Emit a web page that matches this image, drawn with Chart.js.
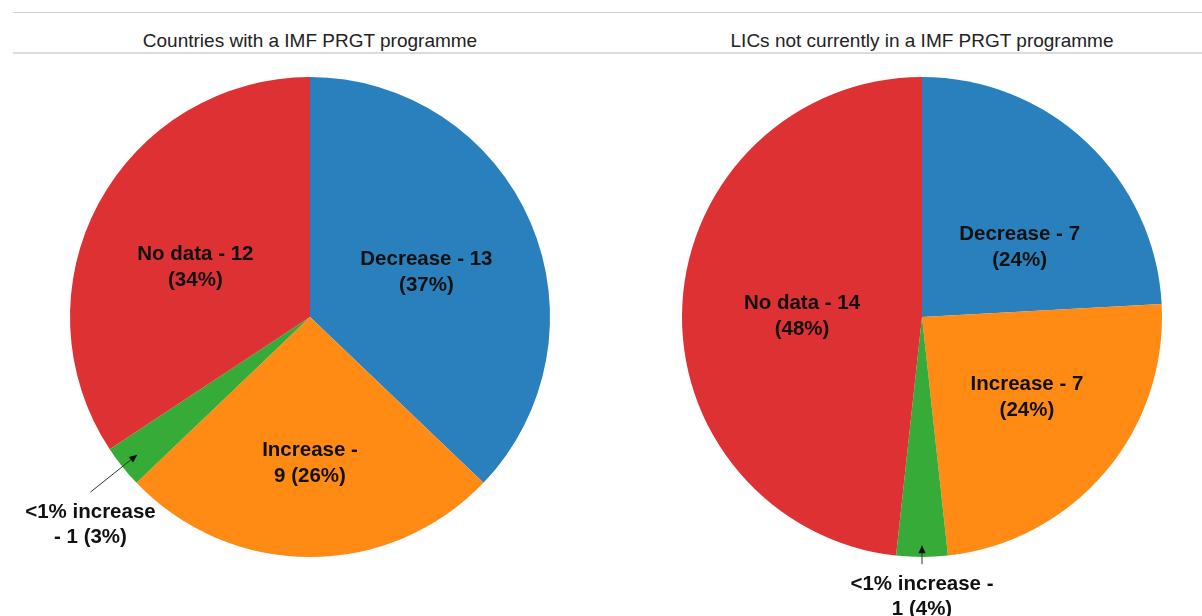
<!DOCTYPE html>
<html>
<head>
<meta charset="utf-8">
<script src="https://cdn.jsdelivr.net/npm/chart.js@4"></script>
<style>
  body { margin: 0; background: #fff; width: 1202px; height: 616px; overflow: hidden; position: relative; font-family: "Liberation Sans", Arial, sans-serif; }
  .rule { position: absolute; left: 13px; right: 0; height: 1px; background: #d0d0d0; }
  .title { position: absolute; top: 30px; width: 620px; text-align: center; font-size: 19px; color: #222; }
  .pie { position: absolute; top: 57px; }
</style>
</head>
<body>
<div class="rule" style="top:12px"></div>
<div class="rule" style="top:52px; height:2px; background:#dcdcdc"></div>
<div class="title" style="left:0">Countries with a IMF PRGT programme</div>
<div class="title" style="left:612px">LICs not currently in a IMF PRGT programme</div>
<div class="pie" style="left:0"><canvas id="left" width="620" height="559"></canvas></div>
<div class="pie" style="left:612px"><canvas id="right" width="620" height="559"></canvas></div>
<script>
// categories, clockwise from 12 o'clock
var categories = ['Decrease', 'Increase', '<1% increase', 'No data'];
var colors = ['#2a80bd', '#ff8a14', '#36ab38', '#dd3134'];

var prgt_values = [13, 9, 1, 12];
var prgt_labels = [['Decrease - 13', '(37%)'], ['Increase -', '9 (26%)'], ['<1% increase', '- 1 (3%)'], ['No data - 12', '(34%)']];

var lic_values = [7, 7, 1, 14];
var lic_labels = [['Decrease - 7', '(24%)'], ['Increase - 7', '(24%)'], ['<1% increase -', '1 (4%)'], ['No data - 14', '(48%)']];

// label placement: [radius fraction, angle shift in degrees] or an arrow callout
var prgt_place = [{f: 0.52, shift: 2}, {f: 0.61, shift: 0}, {arrow: true, tip: 0.92, tail: 1.17}, {f: 0.52, shift: -5}];
var lic_place = [{f: 0.5, shift: 11}, {f: 0.55, shift: -3}, {arrow: true, tip: 0.95, tail: 1.03}, {f: 0.5, shift: -3}];

var sliceLabels = {
  id: 'sliceLabels',
  afterDatasetsDraw: function(chart, args, opts) {
    var ctx = chart.ctx;
    var arcs = chart.getDatasetMeta(0).data;
    ctx.save();
    ctx.font = 'bold 20.5px "Liberation Sans", Arial, sans-serif';
    ctx.fillStyle = '#111';
    ctx.textAlign = 'center';
    ctx.textBaseline = 'middle';
    arcs.forEach(function(arc, i) {
      var p = opts.place[i];
      var lines = opts.labels[i];
      var mid = (arc.startAngle + arc.endAngle) / 2;
      var r = arc.outerRadius;
      if (p.arrow) {
        var tx = arc.x + Math.cos(mid) * r * p.tip, ty = arc.y + Math.sin(mid) * r * p.tip;
        var sx = arc.x + Math.cos(mid) * r * p.tail, sy = arc.y + Math.sin(mid) * r * p.tail;
        var ang = Math.atan2(ty - sy, tx - sx);
        ctx.strokeStyle = '#333';
        ctx.lineWidth = 1;
        ctx.beginPath();
        ctx.moveTo(sx, sy);
        ctx.lineTo(tx - Math.cos(ang) * 6, ty - Math.sin(ang) * 6);
        ctx.stroke();
        ctx.beginPath();
        ctx.moveTo(tx, ty);
        ctx.lineTo(tx - Math.cos(ang - 0.4) * 9, ty - Math.sin(ang - 0.4) * 9);
        ctx.lineTo(tx - Math.cos(ang + 0.4) * 9, ty - Math.sin(ang + 0.4) * 9);
        ctx.closePath();
        ctx.fillStyle = '#111';
        ctx.fill();
        ctx.fillText(lines[0], sx, sy + 20);
        ctx.fillText(lines[1], sx, sy + 45);
      } else {
        var a = mid + p.shift * Math.PI / 180;
        var x = arc.x + Math.cos(a) * r * p.f, y = arc.y + Math.sin(a) * r * p.f;
        ctx.fillText(lines[0], x, y - 13);
        ctx.fillText(lines[1], x, y + 13);
      }
    });
    ctx.restore();
  }
};

function createPie(id, values, labels, place) {
  return new Chart(document.getElementById(id), {
    type: 'pie',
    data: {
      labels: categories,
      datasets: [{
        data: values,
        backgroundColor: colors,
        borderWidth: 0,
        radius: 240
      }]
    },
    options: {
      responsive: false,
      animation: false,
      layout: { padding: { top: 0, left: 0, right: 0, bottom: 39 } },
      plugins: {
        legend: { display: false },
        tooltip: { enabled: false },
        sliceLabels: { labels: labels, place: place }
      }
    },
    plugins: [sliceLabels]
  });
}

createPie('left', prgt_values, prgt_labels, prgt_place);
createPie('right', lic_values, lic_labels, lic_place);
</script>
</body>
</html>
